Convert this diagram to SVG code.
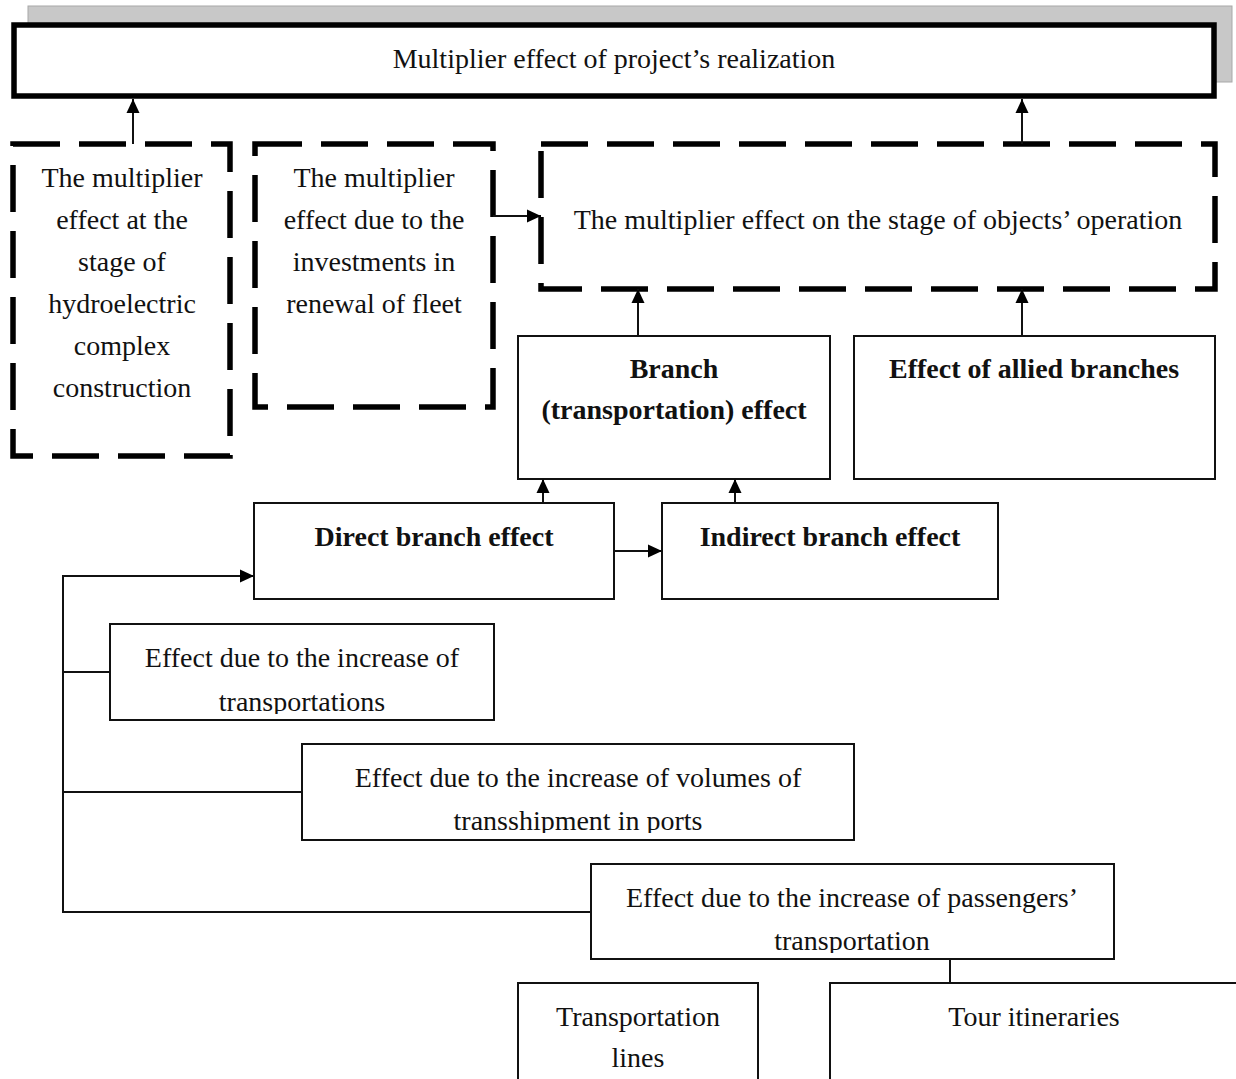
<svg xmlns="http://www.w3.org/2000/svg" width="1236" height="1079" viewBox="0 0 1236 1079">
<style>
text{font-family:"Liberation Serif","Times New Roman",serif;font-size:28px;fill:#111;text-anchor:middle}
.b{font-weight:bold}
.box{fill:#fff;stroke:#111;stroke-width:2}
.dash{fill:none;stroke:#000;stroke-width:5.5;stroke-dasharray:47 19}
.ln{fill:none;stroke:#111;stroke-width:2}
.ar{fill:none;stroke:#111;stroke-width:2;marker-end:url(#ah)}
</style>
<defs>
<marker id="ah" viewBox="0 0 14 14" refX="14" refY="7" markerWidth="14" markerHeight="14" markerUnits="userSpaceOnUse" orient="auto">
<path d="M0,0.5 L14,7 L0,13.5 Z" fill="#000"/>
</marker>
<clipPath id="c1"><rect x="110" y="624" width="384" height="90"/></clipPath>
<clipPath id="c2"><rect x="302" y="744" width="552" height="89"/></clipPath>
<clipPath id="c3"><rect x="591" y="864" width="523" height="89"/></clipPath>
</defs>

<g id="shadow">
<rect x="28" y="6" width="1204" height="76" fill="#c8c8c8" stroke="#a8a8a8" stroke-width="1"/>
</g>
<g id="n-main">
<rect x="14" y="25" width="1200" height="71" fill="#fff" stroke="#000" stroke-width="5.5"/>
<text x="614" y="68">Multiplier effect of project’s realization</text>
</g>

<g id="n-hydro">
<rect class="dash" x="13" y="144" width="217" height="312"/>
<text x="122" y="187">The multiplier</text>
<text x="122" y="229">effect at the</text>
<text x="122" y="271">stage of</text>
<text x="122" y="313">hydroelectric</text>
<text x="122" y="355">complex</text>
<text x="122" y="397">construction</text>
</g>

<g id="n-fleet">
<rect class="dash" x="255" y="144" width="238" height="263"/>
<text x="374" y="187">The multiplier</text>
<text x="374" y="229">effect due to the</text>
<text x="374" y="271">investments in</text>
<text x="374" y="313">renewal of fleet</text>
</g>

<g id="n-operation">
<rect class="dash" x="541" y="144" width="674" height="145"/>
<text x="878" y="229">The multiplier effect on the stage of objects’ operation</text>
</g>

<g id="n-branch">
<rect class="box" x="518" y="336" width="312" height="143"/>
<text class="b" x="674" y="378">Branch</text>
<text class="b" x="674" y="419">(transportation) effect</text>
</g>

<g id="n-allied">
<rect class="box" x="854" y="336" width="361" height="143"/>
<text class="b" x="1034" y="378">Effect of allied branches</text>
</g>

<g id="n-direct">
<rect class="box" x="254" y="503" width="360" height="96"/>
<text class="b" x="434" y="546">Direct branch effect</text>
</g>

<g id="n-indirect">
<rect class="box" x="662" y="503" width="336" height="96"/>
<text class="b" x="830" y="546">Indirect branch effect</text>
</g>

<g id="n-transportations">
<rect class="box" x="110" y="624" width="384" height="96"/>
<g clip-path="url(#c1)">
<text x="302" y="667">Effect due to the increase of</text>
<text x="302" y="711">transportations</text>
</g>
</g>

<g id="n-transshipment">
<rect class="box" x="302" y="744" width="552" height="96"/>
<g clip-path="url(#c2)">
<text x="578" y="787">Effect due to the increase of volumes of</text>
<text x="578" y="830">transshipment in ports</text>
</g>
</g>

<g id="n-passengers">
<rect class="box" x="591" y="864" width="523" height="95"/>
<g clip-path="url(#c3)">
<text x="852" y="907">Effect due to the increase of passengers’</text>
<text x="852" y="950">transportation</text>
</g>
</g>

<g id="n-lines">
<rect class="box" x="518" y="983" width="240" height="110"/>
<text x="638" y="1026">Transportation</text>
<text x="638" y="1067">lines</text>
</g>

<g id="n-tour">
<rect class="box" x="830" y="983" width="420" height="110"/>
<text x="1034" y="1026">Tour itineraries</text>
</g>

<g id="connectors">
<path class="ar" d="M133,144 V99"/>
<path class="ar" d="M1022,144 V99"/>
<path class="ar" d="M493,216 H541"/>
<path class="ar" d="M638,336 V289"/>
<path class="ar" d="M1022,336 V289"/>
<path class="ar" d="M543,503 V479"/>
<path class="ar" d="M735,503 V479"/>
<path class="ar" d="M614,551 H662"/>
<path class="ar" d="M63,576 H254"/>
<path class="ln" d="M63,575 V912 H591"/>
<path class="ln" d="M63,672 H110"/>
<path class="ln" d="M63,792 H302"/>
<path class="ln" d="M950,959 V983"/>
</g>
</svg>
